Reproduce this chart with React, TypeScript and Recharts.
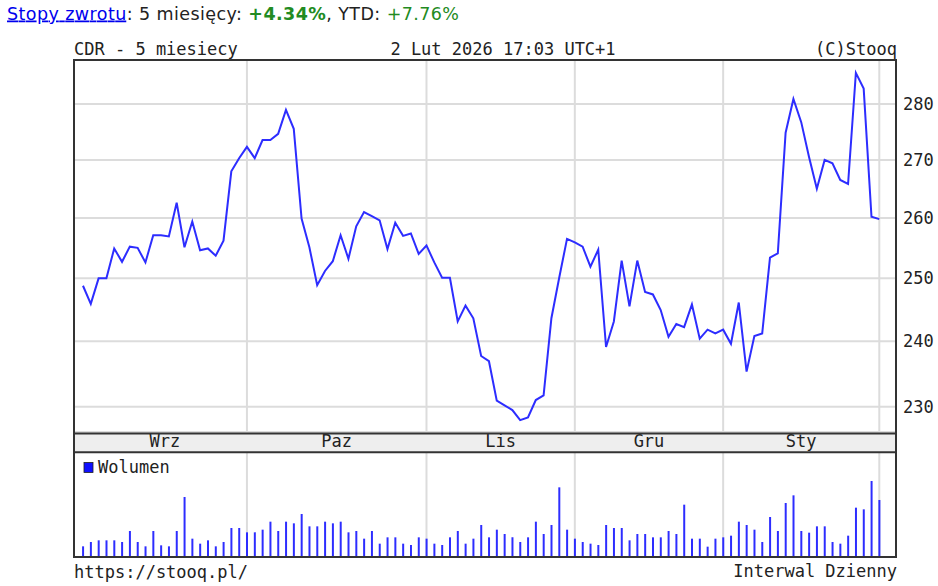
import React from 'react';
import { LineChart, Line, BarChart, Bar, XAxis, YAxis, CartesianGrid } from 'recharts';

// ── Data ──────────────────────────────────────────────────────────────────────

const MONTH_LABELS = ['Wrz', 'Paz', 'Lis', 'Gru', 'Sty'];
// sessions per month (Sep..Jan); the last point is 2 Feb
const MONTH_SESSIONS = [21, 23, 19, 19, 20];

const CLOSE = [
  248.8, 245.9, 250.0, 250.0, 254.9, 252.7, 255.2, 255.0, 252.6, 257.1,
  257.1, 256.9, 262.6, 255.1, 259.4, 254.6, 254.9, 253.7, 256.2, 268.0,
  270.3, 272.3, 270.3, 273.5, 273.5, 274.6, 278.9, 275.5, 259.9, 255.1,
  248.9, 251.2, 252.8, 257.1, 253.2, 258.6, 261.0, 260.3, 259.6, 254.8,
  259.2, 257.0, 257.4, 254.0, 255.4, 252.6, 250.1, 250.1, 243.1, 245.6,
  243.6, 237.7, 236.9, 230.9, 230.2, 229.5, 228.0, 228.4, 231.0, 231.7,
  243.6, 250.1, 256.5, 255.9, 255.2, 251.9, 254.7, 239.1, 243.1, 252.9,
  245.5, 252.9, 247.8, 247.4, 244.9, 240.7, 242.7, 242.2, 245.8, 240.4,
  241.8, 241.2, 241.8, 239.6, 246.1, 235.3, 240.8, 241.2, 253.4, 254.1,
  274.8, 280.9, 276.7, 270.5, 265.0, 270.0, 269.4, 266.5, 265.8, 285.7,
  282.8, 260.2, 259.8,
];

// relative volume (no scale shown on the chart)
const VOLUME = [
  32, 45, 50, 50, 50, 45, 78, 45, 32, 78,
  35, 32, 78, 180, 55, 40, 50, 32, 45, 87,
  87, 74, 74, 82, 106, 78, 106, 101, 129, 92,
  92, 106, 101, 106, 74, 78, 55, 78, 40, 59,
  59, 40, 36, 59, 55, 40, 36, 59, 78, 40,
  55, 96, 59, 82, 69, 59, 45, 59, 106, 69,
  96, 209, 82, 55, 45, 40, 36, 96, 87, 87,
  50, 69, 69, 59, 59, 78, 69, 157, 55, 55,
  31, 55, 59, 64, 106, 96, 82, 45, 120, 78,
  162, 185, 78, 73, 92, 92, 45, 40, 64, 148,
  143, 228, 171,
];

const PRICE_TICKS = [230, 240, 250, 260, 270, 280];

// ── Derived ───────────────────────────────────────────────────────────────────

const MONTH_STARTS = MONTH_SESSIONS.reduce<number[]>(
  (acc, n) => [...acc, (acc.length ? acc[acc.length - 1] : 0) + n], [],
);
const MONTH_MIDS = MONTH_STARTS.map((end, k) => ((k ? MONTH_STARTS[k - 1] : 0) + end) / 2);

const data = CLOSE.map((close, i) => ({ i, close, vol: VOLUME[i] }));

const X_DOMAIN: [number, number] = [-1.15, 104.14];
const Y_DOMAIN: [number, number] = [226.25, 288.1];
const VOL_DOMAIN: [number, number] = [0, 315];

const MONO = '"DejaVu Sans Mono", monospace';
const SANS = '"DejaVu Sans", sans-serif';
const INK = '#222';
const GRID = '#dcdcdc';
const BLUE = '#2d2dff';

const MonthTick = (props: any) => {
  const { x, y, payload } = props;
  const label = MONTH_LABELS[MONTH_MIDS.indexOf(payload.value)];
  return (
    <text x={x} y={y} dy={14.5} textAnchor="middle" fill={INK} fontSize={17} fontFamily={MONO}>
      {label}
    </text>
  );
};

export default function App() {
  return (
    <div style={{ position: 'absolute', left: 0, top: 0, width: 938, height: 586, background: '#fff' }}>
      {/* month strip background */}
      <svg width={938} height={586} style={{ position: 'absolute', left: 0, top: 0 }}>
        <rect x={74} y={433} width={822} height={19} fill="#eeeeee" />
      </svg>

      {/* price panel */}
      <div style={{ position: 'absolute', left: 0, top: 0 }}>
        <LineChart width={938} height={452} data={data} margin={{ top: 60, right: 0, bottom: 0, left: 74 }}>
          <CartesianGrid stroke={GRID} strokeWidth={2} verticalValues={MONTH_STARTS} />
          <XAxis
            dataKey="i" type="number" domain={X_DOMAIN} allowDataOverflow
            ticks={MONTH_MIDS} interval={0} height={20}
            axisLine={false} tickLine={false} tickSize={0} tickMargin={0}
            tick={<MonthTick />}
          />
          <XAxis
            xAxisId="top" orientation="top" mirror type="number" domain={X_DOMAIN} allowDataOverflow
            ticks={MONTH_STARTS} interval={0} tick={false} tickSize={5}
            axisLine={false} tickLine={{ stroke: INK, strokeWidth: 2 }}
          />
          <XAxis
            xAxisId="bottom" orientation="bottom" mirror type="number" domain={X_DOMAIN} allowDataOverflow
            ticks={MONTH_STARTS} interval={0} tick={false} tickSize={5}
            axisLine={false} tickLine={{ stroke: INK, strokeWidth: 2 }}
          />
          <YAxis
            orientation="right" type="number" scale="log" domain={Y_DOMAIN} allowDataOverflow
            ticks={PRICE_TICKS} interval={0} width={42}
            axisLine={false} tickLine={false} tickSize={0} tickMargin={7}
            tick={{ fill: INK, fontSize: 17, fontFamily: MONO }}
          />
          <YAxis
            yAxisId="inner" orientation="right" mirror type="number" scale="log" domain={Y_DOMAIN} allowDataOverflow
            ticks={PRICE_TICKS} interval={0} tick={false} tickSize={4}
            axisLine={false} tickLine={{ stroke: INK, strokeWidth: 2 }}
          />
          <Line
            dataKey="close" type="linear" stroke={BLUE} strokeWidth={2}
            dot={false} activeDot={false} isAnimationActive={false}
          />
        </LineChart>
      </div>

      {/* volume panel */}
      <div style={{ position: 'absolute', left: 0, top: 452 }}>
        <BarChart width={938} height={105} data={data} margin={{ top: 0, right: 42, bottom: 0, left: 74 }}>
          <CartesianGrid stroke={GRID} strokeWidth={2} horizontal={false} verticalValues={MONTH_STARTS} />
          <XAxis dataKey="i" type="number" domain={X_DOMAIN} allowDataOverflow hide />
          <XAxis
            xAxisId="top" orientation="top" mirror type="number" domain={X_DOMAIN} allowDataOverflow
            ticks={MONTH_STARTS} interval={0} tick={false} tickSize={5}
            axisLine={false} tickLine={{ stroke: INK, strokeWidth: 2 }}
          />
          <YAxis hide domain={VOL_DOMAIN} allowDataOverflow />
          <Bar dataKey="vol" fill={BLUE} barSize={2} isAnimationActive={false} />
        </BarChart>
      </div>

      {/* texts and frame */}
      <svg width={938} height={586} style={{ position: 'absolute', left: 0, top: 0, pointerEvents: 'none' }}>
        <text x={7} y={19.5} fontFamily={SANS} fontSize={17.5} fill={INK} textLength={452} lengthAdjust="spacing">
          <tspan fill="#0000ee" style={{ textDecoration: 'underline' }}>Stopy zwrotu</tspan>
          <tspan>: 5 miesięcy: </tspan>
          <tspan fill="#228b22" fontWeight="bold">+4.34%</tspan>
          <tspan>, YTD: </tspan>
          <tspan fill="#228b22">+7.76%</tspan>
        </text>

        <text x={74} y={55} fontFamily={MONO} fontSize={17} fill={INK}>CDR - 5 miesiecy</text>
        <text x={503} y={55} fontFamily={MONO} fontSize={17} fill={INK} textAnchor="middle">2 Lut 2026 17:03 UTC+1</text>
        <text x={897} y={55} fontFamily={MONO} fontSize={17} fill={INK} textAnchor="end">(C)Stooq</text>

        <rect x={74} y={60} width={822} height={497} fill="none" stroke="#333" strokeWidth={2} />
        <line x1={74} x2={896} y1={433.5} y2={433.5} stroke="#333" strokeWidth={2} />
        <line x1={74} x2={896} y1={452.3} y2={452.3} stroke="#333" strokeWidth={2} />

        <rect x={84} y={462.5} width={9} height={10} fill="#1010ff" stroke={INK} strokeWidth={0.8} />
        <text x={98} y={473} fontFamily={MONO} fontSize={17} fill={INK}>Wolumen</text>

        <text x={74} y={578} fontFamily={MONO} fontSize={17} fill={INK}>https://stooq.pl/</text>
        <text x={897} y={577} fontFamily={MONO} fontSize={17} fill={INK} textAnchor="end">Interwal Dzienny</text>
      </svg>
    </div>
  );
}
